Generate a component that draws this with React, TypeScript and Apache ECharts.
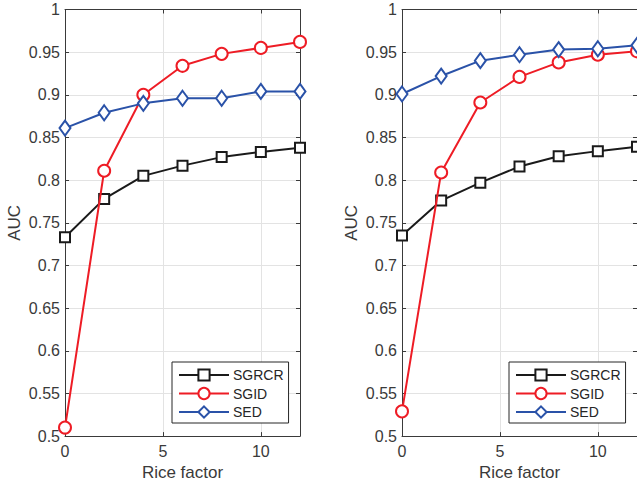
import React, { useEffect, useRef } from "react";
import * as echarts from "echarts";

const xValues = [0, 2, 4, 6, 8, 10, 12];
const seriesNames = ["SGRCR", "SGID", "SED"];

// Left panel
const leftSGRCR = [0.733, 0.778, 0.805, 0.817, 0.827, 0.833, 0.838];
const leftSGID = [0.51, 0.811, 0.9, 0.934, 0.948, 0.955, 0.962];
const leftSED = [0.861, 0.879, 0.89, 0.896, 0.896, 0.904, 0.904];

// Right panel
const rightSGRCR = [0.735, 0.776, 0.797, 0.816, 0.828, 0.834, 0.839];
const rightSGID = [0.529, 0.809, 0.891, 0.921, 0.938, 0.947, 0.951];
const rightSED = [0.901, 0.922, 0.94, 0.947, 0.953, 0.954, 0.958];

const colors = ["#1a1a1a", "#ee1c25", "#2a52a8"];
const symbols = ["rect", "circle", "diamond"];
const symbolSizes: any[] = [10, 12, [11, 15]];

const FONT = "'Liberation Sans', Arial, Helvetica, sans-serif";
const AXIS_COLOR = "#3a3a3a";
const TEXT_COLOR = "#3a3a3a";

export default function App() {
  const ref = useRef<HTMLDivElement>(null);

  useEffect(() => {
    if (!ref.current) return;
    const chart = echarts.init(ref.current, undefined, { renderer: "svg" });

    const grids = [
      { left: 65, top: 9.5, width: 235, height: 427.5 },
      { left: 402, top: 9.5, width: 235, height: 427.5 },
    ];

    const xAxes: any[] = [];
    const yAxes: any[] = [];
    grids.forEach((_, gi) => {
      xAxes.push({
        type: "value",
        gridIndex: gi,
        position: "bottom",
        min: 0,
        max: 12,
        interval: 5,
        name: "Rice factor",
        nameLocation: "middle",
        nameGap: 26,
        nameTextStyle: { fontFamily: FONT, fontSize: 17, color: TEXT_COLOR },
        axisLine: { show: true, onZero: false, lineStyle: { color: AXIS_COLOR, width: 1 } },
        axisTick: { show: true, inside: true, length: 4, lineStyle: { color: AXIS_COLOR } },
        axisLabel: {
          show: true,
          margin: 7,
          fontFamily: FONT,
          fontSize: 16,
          color: TEXT_COLOR,
          showMaxLabel: false,
          formatter: (v: number) => (v % 5 === 0 ? String(v) : ""),
        },
        splitLine: { show: true, lineStyle: { color: "#e3e3e3", width: 1 } },
      });
      xAxes.push({
        type: "value",
        gridIndex: gi,
        position: "top",
        min: 0,
        max: 12,
        interval: 5,
        axisLine: { show: true, onZero: false, lineStyle: { color: AXIS_COLOR, width: 1 } },
        axisTick: { show: true, inside: true, length: 4, lineStyle: { color: AXIS_COLOR } },
        axisLabel: { show: false },
        splitLine: { show: false },
      });
      yAxes.push({
        type: "value",
        gridIndex: gi,
        position: "left",
        min: 0.5,
        max: 1,
        interval: 0.05,
        name: "AUC",
        nameLocation: "middle",
        nameGap: 42,
        nameTextStyle: { fontFamily: FONT, fontSize: 17, color: TEXT_COLOR },
        axisLine: { show: true, onZero: false, lineStyle: { color: AXIS_COLOR, width: 1 } },
        axisTick: { show: true, inside: true, length: 4, lineStyle: { color: AXIS_COLOR } },
        axisLabel: {
          show: true,
          margin: 5,
          fontFamily: FONT,
          fontSize: 16,
          color: TEXT_COLOR,
          formatter: (v: number) => String(parseFloat(v.toFixed(2))),
        },
        splitLine: { show: true, lineStyle: { color: "#e3e3e3", width: 1 } },
      });
      yAxes.push({
        type: "value",
        gridIndex: gi,
        position: "right",
        min: 0.5,
        max: 1,
        interval: 0.05,
        axisLine: { show: true, onZero: false, lineStyle: { color: AXIS_COLOR, width: 1 } },
        axisTick: { show: true, inside: true, length: 4, lineStyle: { color: AXIS_COLOR } },
        axisLabel: { show: false },
        splitLine: { show: false },
      });
    });

    const panels = [
      [leftSGRCR, leftSGID, leftSED],
      [rightSGRCR, rightSGID, rightSED],
    ];

    const series: any[] = [];
    panels.forEach((panel, gi) => {
      panel.forEach((vals, si) => {
        series.push({
          type: "line",
          name: seriesNames[si],
          xAxisIndex: gi * 2,
          yAxisIndex: gi * 2,
          data: xValues.map((x, i) => [x, vals[i]]),
          symbol: symbols[si],
          symbolSize: symbolSizes[si],
          showAllSymbol: true,
          clip: false,
          z: 3 + si,
          lineStyle: { color: colors[si], width: 2 },
          itemStyle: { color: "#ffffff", borderColor: colors[si], borderWidth: 2 },
        });
      });
    });

    const legendBase = {
      data: seriesNames,
      orient: "vertical",
      top: 362,
      width: 117,
      itemWidth: 50,
      itemHeight: 14,
      itemGap: 4.5,
      padding: [6, 5, 4, 6],
      backgroundColor: "#ffffff",
      borderColor: "#262626",
      borderWidth: 1,
      borderRadius: 0,
      selectedMode: false,
      textStyle: { fontFamily: FONT, fontSize: 14, color: "#262626", padding: [0, 0, 0, -1] },
    };

    chart.setOption({
      animation: false,
      backgroundColor: "#ffffff",
      grid: grids,
      xAxis: xAxes,
      yAxis: yAxes,
      legend: [
        { ...legendBase, left: 172 },
        { ...legendBase, left: 509 },
      ],
      series,
    });

    return () => chart.dispose();
  }, []);

  return (
    <div
      ref={ref}
      style={{ position: "absolute", left: 0, top: 0, width: 637, height: 486 }}
    />
  );
}
